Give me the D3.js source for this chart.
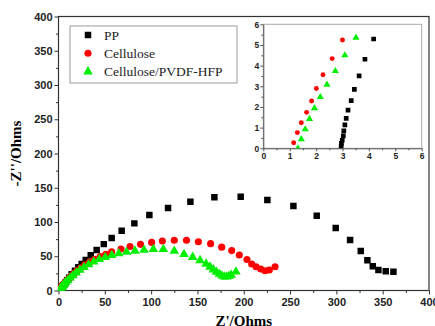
<!DOCTYPE html>
<html>
<head>
<meta charset="utf-8">
<script src="https://cdn.jsdelivr.net/npm/d3@7"></script>
<style>
  body { margin: 0; background: #fff; }
  svg { display: block; }
</style>
</head>
<body>
<div id="chart"></div>
<script>
// Nyquist data, Z' (Re) and -Z'' (Im), in Ohms
const seriesNames = ["PP", "Cellulose", "Cellulose/PVDF-HFP"];

const ppRe = [2.95, 2.96, 2.99, 3.03, 3.05, 3.09, 3.14, 3.21, 3.33, 3.45, 3.63, 3.85, 4.18,
  5.0, 6.2, 7.6, 9.3, 11.5, 14.2, 17.8, 21.4, 25, 29.4, 34.8, 41.2, 48.9, 57.4, 68.2, 81.9,
  98.1, 118.3, 142.4, 168.3, 196.7, 225.5, 253.6, 278.8, 299.3, 314.8, 326.3, 333.5, 339.3,
  345.4, 353.3, 361.6];
const ppIm = [0.08, 0.24, 0.39, 0.6, 0.84, 1.13, 1.45, 1.85, 2.31, 2.85, 3.5, 4.31, 5.29,
  7.0, 9.2, 11.8, 14.8, 18.5, 23.6, 28.9, 33.9, 38.7, 44.5, 51.3, 59.1, 67.7, 76.8, 87.3, 98,
  110.2, 120.4, 129.6, 136, 137, 132, 123.4, 109.2, 91.2, 73.7, 57.7, 44, 35.3,
  30, 28, 27.4];

const celRe = [1.15, 1.29, 1.44, 1.64, 1.83, 2.01, 2.26, 2.61, 3.0,
  3.5, 4.2, 5.0, 6.0, 7.3, 9.0, 11.0, 13.5, 16.5, 20.0, 24.0, 28.5, 33.5, 39.0, 45.0, 51.0,
  57.4, 67.5, 77.2, 88.5, 100.6, 112.1, 125, 138.2, 151, 164.2, 176.2, 187, 195.2, 203.5,
  208.6, 213.3, 218.4, 223, 227.6, 233.8];
const celIm = [0.27, 0.76, 1.24, 1.74, 2.29, 2.89, 3.56, 4.34, 5.24,
  6.2, 7.3, 8.5, 10.0, 12.0, 14.5, 17.5, 21.0, 25.0, 29.0, 33.0, 37.5, 41.5, 45.5, 49.5, 53.0,
  56.6, 60.6, 64.2, 67.4, 70.2, 72.2, 73.3, 73.3, 71.2, 68.4, 63.3, 58.3, 51.8, 45.2,
  38.7, 34.7, 31.4, 28.9, 29.9, 34.7];

const cpvRe = [1.31, 1.44, 1.59, 1.75, 1.94, 2.16, 2.41, 2.73, 3.09, 3.51,
  4.3, 5.3, 6.5, 8.0, 10.0, 12.5, 15.5, 19.0, 23.0, 27.5, 32.5, 38.0, 44.0, 50.5, 57.5, 65.0,
  73.5, 82.6, 92.3, 102.4, 113.2, 125, 135.5, 144.9, 152.8, 159.3, 163.6, 167.2, 170.5,
  173.7, 176.5, 179, 181.6, 184, 186.5, 191.5];
const cpvIm = [0.0, 0.44, 0.92, 1.42, 1.94, 2.48, 3.08, 3.74, 4.5, 5.35,
  6.5, 8.0, 10.0, 12.3, 15.0, 18.5, 22.0, 26.0, 30.0, 34.0, 38.0, 42.0, 45.5, 48.5, 51.5, 54.0,
  56.3, 57.8, 59.1, 60.1, 60.1, 57.7, 53.0, 48.7, 44.0, 38.8, 34.5, 30.5, 27.0,
  24.0, 21.5, 20.0, 20.0, 21.0, 22.5, 27.4];

const mainTicks = [0, 50, 100, 150, 200, 250, 300, 350, 400];
const insetTicks = [0, 1, 2, 3, 4, 5, 6];

const width = 435, height = 326;
const svg = d3.select("#chart").append("svg")
  .attr("width", width).attr("height", height);

const series = [
  { name: seriesNames[0], re: ppRe, im: ppIm, color: "#000", shape: d3.symbolSquare },
  { name: seriesNames[1], re: celRe, im: celIm, color: "#ff0000", shape: d3.symbolCircle },
  { name: seriesNames[2], re: cpvRe, im: cpvIm, color: "#00ee00", shape: d3.symbolTriangle }
];
const sizes = { main: [42, 40, 40], inset: [22, 19, 22] };

// ---------- main plot ----------
const x = d3.scaleLinear().domain([0, 400]).range([58.5, 429]);
const y = d3.scaleLinear().domain([0, 400]).range([290.5, 16.5]);

svg.append("defs").append("clipPath").attr("id", "clipMain")
  .append("rect").attr("x", 58.5).attr("y", 16.5)
  .attr("width", 429 - 58.5).attr("height", 290.5 - 16.5);

const tickFont = "'Liberation Sans', Arial, sans-serif";

const xAxis = svg.append("g").attr("transform", "translate(0,290.5)")
  .call(d3.axisBottom(x).tickValues(d3.range(0, 401, 25)).tickSize(4)
    .tickFormat(d => (d % 50 === 0 ? d : "")).tickSizeOuter(0));
const yAxis = svg.append("g").attr("transform", "translate(58.5,0)")
  .call(d3.axisLeft(y).tickValues(d3.range(0, 401, 25)).tickSize(4)
    .tickFormat(d => (d % 50 === 0 ? d : "")).tickSizeOuter(0));

[xAxis, yAxis].forEach(g => {
  g.select(".domain").remove();
  g.selectAll("line").attr("stroke", "#333");
  g.selectAll("text").style("font-family", tickFont).style("font-size", "11px")
    .style("font-weight", "bold").attr("fill", "#222");
});
xAxis.selectAll(".tick").filter(d => d % 50 !== 0).select("line").attr("y2", 2.5);
yAxis.selectAll(".tick").filter(d => d % 50 !== 0).select("line").attr("x2", -2.5);
xAxis.selectAll("text").attr("dy", "0.75em").attr("y", 7);
yAxis.selectAll("text").attr("x", -6);

svg.append("rect").attr("x", 58.5).attr("y", 16.5)
  .attr("width", 429 - 58.5).attr("height", 290.5 - 16.5)
  .attr("fill", "none").attr("stroke", "#333").attr("stroke-width", 1.2);

const mainPts = svg.append("g").attr("clip-path", "url(#clipMain)");
series.forEach((s, i) => {
  mainPts.append("g").selectAll("path")
    .data(s.re.map((r, j) => [r, s.im[j]]))
    .join("path")
    .attr("transform", d => `translate(${x(d[0])},${y(d[1])})`)
    .attr("d", d3.symbol().type(s.shape).size(sizes.main[i]))
    .attr("fill", s.color);
});

// axis titles
svg.append("text")
  .attr("x", (58.5 + 429) / 2).attr("y", 326)
  .attr("text-anchor", "middle")
  .style("font-family", "'Liberation Serif', 'Times New Roman', serif")
  .style("font-size", "15px").style("font-weight", "bold")
  .text("Z'/Ohms");
svg.append("text")
  .attr("transform", "translate(21,153.5) rotate(-90)")
  .attr("text-anchor", "middle")
  .style("font-family", "'Liberation Serif', 'Times New Roman', serif")
  .style("font-size", "15px").style("font-weight", "bold")
  .text("-Z''/Ohms");

// legend
const legend = svg.append("g");
legend.append("rect").attr("x", 70).attr("y", 26).attr("width", 167).attr("height", 57)
  .attr("fill", "#fff").attr("stroke", "#999").attr("stroke-width", 1);
series.forEach((s, i) => {
  const ly = 35 + i * 18.3;
  legend.append("path")
    .attr("transform", `translate(88,${ly})`)
    .attr("d", d3.symbol().type(s.shape).size(sizes.main[i]))
    .attr("fill", s.color);
  legend.append("text").attr("x", 104).attr("y", ly + 4.5)
    .style("font-family", "'Liberation Serif', 'Times New Roman', serif")
    .style("font-size", "13.5px").attr("fill", "#222")
    .text(s.name);
});

// ---------- inset ----------
const xi = d3.scaleLinear().domain([0, 6]).range([263.3, 421.7]);
const yi = d3.scaleLinear().domain([0, 6]).range([148.3, 24.3]);

svg.append("defs").append("clipPath").attr("id", "clipInset")
  .append("rect").attr("x", 263.3).attr("y", 24.3)
  .attr("width", 421.7 - 263.3).attr("height", 148.3 - 24.3);

svg.append("rect").attr("x", 263.3).attr("y", 24.3)
  .attr("width", 421.7 - 263.3).attr("height", 148.3 - 24.3)
  .attr("fill", "#fff").attr("stroke", "#aaa").attr("stroke-width", 1);

const xiAxis = svg.append("g").attr("transform", "translate(0,148.3)")
  .call(d3.axisBottom(xi).tickValues(d3.range(0, 6.01, 0.5)).tickSize(3)
    .tickFormat(d => (d % 1 === 0 ? d : "")).tickSizeOuter(0));
const yiAxis = svg.append("g").attr("transform", "translate(263.3,0)")
  .call(d3.axisLeft(yi).tickValues(d3.range(0, 6.01, 0.5)).tickSize(3)
    .tickFormat(d => (d % 1 === 0 ? d : "")).tickSizeOuter(0));
[xiAxis, yiAxis].forEach(g => {
  g.select(".domain").attr("stroke", "#555");
  g.selectAll("line").attr("stroke", "#555");
  g.selectAll("text").style("font-family", tickFont).style("font-size", "8.5px")
    .style("font-weight", "bold").attr("fill", "#222");
});
xiAxis.selectAll(".tick").filter(d => d % 1 !== 0).select("line").attr("y2", 2);
yiAxis.selectAll(".tick").filter(d => d % 1 !== 0).select("line").attr("x2", -2);
xiAxis.selectAll("text").attr("y", 5);
yiAxis.selectAll("text").attr("x", -4);

const insetPts = svg.append("g").attr("clip-path", "url(#clipInset)");
series.forEach((s, i) => {
  insetPts.append("g").selectAll("path")
    .data(s.re.map((r, j) => [r, s.im[j]]).filter(d => d[0] <= 6.2 && d[1] <= 6.2))
    .join("path")
    .attr("transform", d => `translate(${xi(d[0])},${yi(d[1])})`)
    .attr("d", d3.symbol().type(s.shape).size(sizes.inset[i]))
    .attr("fill", s.color);
});
</script>
</body>
</html>
